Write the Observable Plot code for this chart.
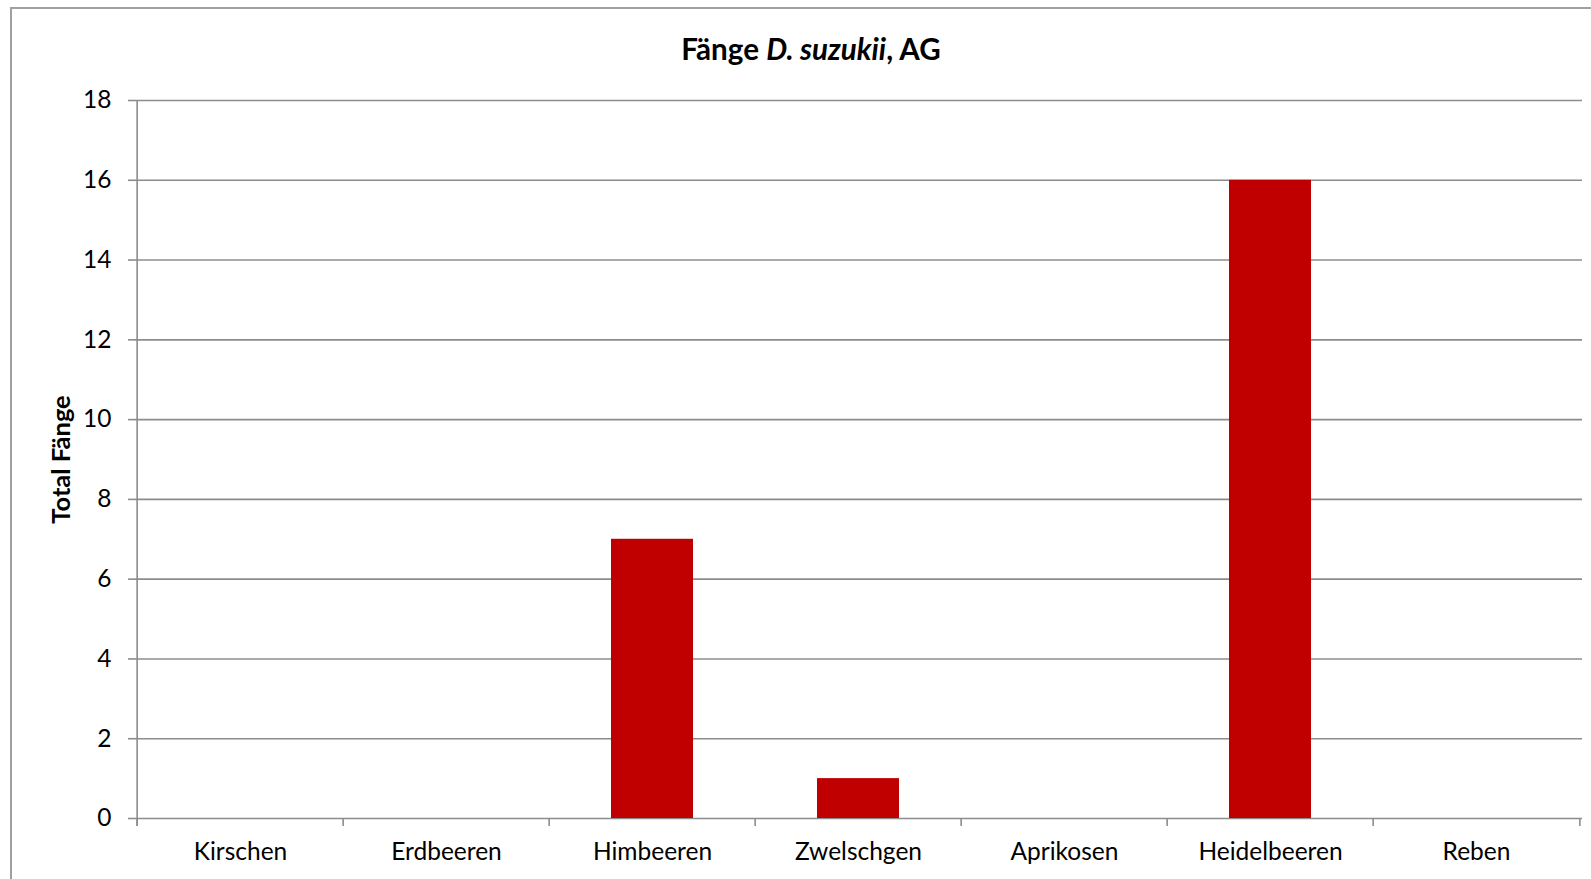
<!DOCTYPE html>
<html>
<head>
<meta charset="utf-8">
<script src="https://cdn.jsdelivr.net/npm/d3@7"></script>
<script src="https://cdn.jsdelivr.net/npm/@observablehq/plot@0.6"></script>
<style>
  html, body { margin: 0; padding: 0; background: #fff; overflow: hidden; }
  #wrap { position: relative; width: 1591px; height: 879px; font-family: Lato, "Open Sans", sans-serif; }
  #border { position: absolute; left: 10px; top: 7px; width: 1700px; height: 1000px;
            border-left: 2px solid #a0a0a0; border-top: 2px solid #a0a0a0; box-sizing: border-box; }
  #title { position: absolute; left: 0; top: 32px; width: 1622px; text-align: center;
           font-weight: bold; font-size: 29.6px; line-height: 34px; color: #000; }
  #chart { position: absolute; left: 0; top: 0; }
</style>
</head>
<body>
<div id="wrap">
  <div id="border"></div>
  <div id="title">Fänge <i>D. suzukii</i>, AG</div>
  <div id="chart"></div>
</div>
<script>
const categories = ["Kirschen", "Erdbeeren", "Himbeeren", "Zwelschgen", "Aprikosen", "Heidelbeeren", "Reben"];
const values = [0, 0, 7, 1, 0, 16, 0];
const yTicks = [0, 2, 4, 6, 8, 10, 12, 14, 16, 18];
const yLabel = "Total Fänge";

const data = categories.map((c, i) => ({category: c, value: values[i]}));

const W = 1591, H = 879;
const mL = 135, mR = 9, mT = 100, mB = 61;
const step = (W - mL - mR) / categories.length;
const grid = "#8c8c8c";
const font = "Lato, 'Open Sans', sans-serif";

const plot = Plot.plot({
  width: W,
  height: H,
  marginLeft: mL,
  marginRight: mR,
  marginTop: mT,
  marginBottom: mB,
  style: {fontFamily: font, fontSize: "24.5px", color: "#000", background: "transparent", overflow: "visible"},
  x: {type: "band", domain: categories, paddingInner: 0.6, paddingOuter: 0.3, axis: null},
  y: {domain: [0, 18], axis: null},
  marks: [
    Plot.ruleY(yTicks, {stroke: grid, strokeWidth: 1.6}),
    Plot.barY(data, {x: "category", y: "value", fill: "#C00000"}),
    // left axis line
    Plot.ruleX([categories[0]], {x: d => d, y1: 18, y2: 0, dx: -step / 2, stroke: grid, strokeWidth: 1.6, insetBottom: -8}),
    // category boundary ticks
    Plot.ruleX(categories, {x: d => d, y1: 0, y2: 0, dx: -step / 2, stroke: grid, strokeWidth: 1.6, insetBottom: -8}),
    Plot.ruleX([categories[categories.length - 1]], {x: d => d, y1: 0, y2: 0, dx: step / 2, stroke: grid, strokeWidth: 1.6, insetBottom: -8}),
    Plot.axisY({ticks: yTicks, tickSize: 7, tickPadding: 17, stroke: grid, strokeWidth: 1.6, fontSize: 24.5, label: null}),
    Plot.axisX({tickSize: 0, tickPadding: 24, fontSize: 24.5, label: null}),
    Plot.text([yLabel], {frameAnchor: "left", text: d => d, rotate: -90, dx: -74, fontWeight: "bold", fontSize: 25.5, textAnchor: "middle", fill: "#000"})
  ]
});
document.getElementById("chart").appendChild(plot);
</script>
</body>
</html>
